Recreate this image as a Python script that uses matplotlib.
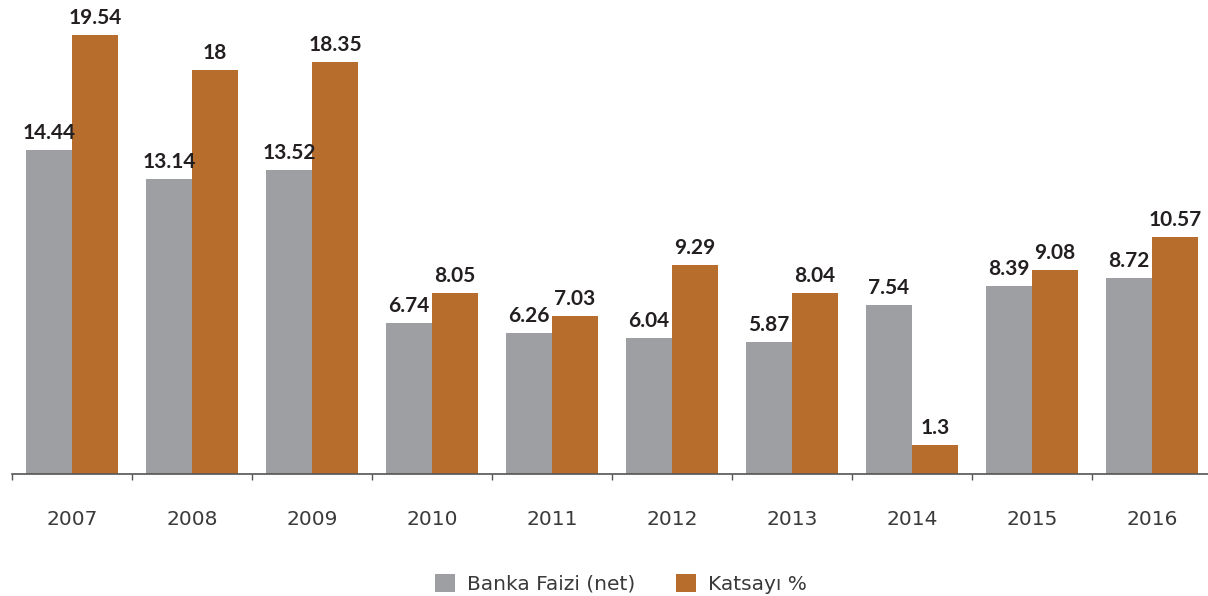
import numpy as np
import matplotlib.pyplot as plt

years = ['2007', '2008', '2009', '2010', '2011', '2012', '2013', '2014', '2015', '2016']
banka = [14.44, 13.14, 13.52, 6.74, 6.26, 6.04, 5.87, 7.54, 8.39, 8.72]
katsayi = [19.54, 18, 18.35, 8.05, 7.03, 9.29, 8.04, 1.3, 9.08, 10.57]
banka_lbl = ['14.44', '13.14', '13.52', '6.74', '6.26', '6.04', '5.87', '7.54', '8.39', '8.72']
katsayi_lbl = ['19.54', '18', '18.35', '8.05', '7.03', '9.29', '8.04', '1.3', '9.08', '10.57']

gray = '#9d9fa2'
orange = '#b76d2b'
txt = '#231f20'

plt.rcParams['font.family'] = ['Lato', 'DejaVu Sans']

fig = plt.figure(figsize=(12.08, 5.96), dpi=100)
ax = fig.add_axes([12 / 1208, 122 / 596, 1200 / 1208, 474 / 596])

x = np.arange(len(years))
w = 0.383
b1 = ax.bar(x - w / 2, banka, w, color=gray, label='Banka Faizi (net)')
b2 = ax.bar(x + w / 2, katsayi, w, color=orange, label='Katsayı %')

for bars, lbls in ((b1, banka_lbl), (b2, katsayi_lbl)):
    for r, s in zip(bars, lbls):
        ax.annotate(s, (r.get_x() + r.get_width() / 2, r.get_height()),
                    xytext=(0, 5), textcoords='offset points',
                    ha='center', va='bottom', fontsize=15, fontweight='bold', color=txt)

ax.set_xlim(-0.5, 9.5)
ax.set_ylim(0, 21.1)
for s in ['top', 'right', 'left']:
    ax.spines[s].set_visible(False)
ax.spines['bottom'].set_color('#555555')
ax.spines['bottom'].set_linewidth(1.2)
ax.set_yticks([])
ax.set_xticks(np.arange(-0.5, 10, 1))
ax.set_xticklabels([])
ax.set_xticks(x, minor=True)
ax.set_xticklabels(years, minor=True, fontsize=14.5, color='#3a3a3a', family='DejaVu Sans')
ax.tick_params(axis='x', which='major', length=4, color='#555555', width=1)
ax.tick_params(axis='x', which='minor', length=0, pad=26)

fig.legend(handles=[b1, b2], loc='center', bbox_to_anchor=(621 / 1208, 1 - 584 / 596),
           ncol=2, frameon=False, handlelength=1.0, handleheight=1.0,
           columnspacing=2.0, handletextpad=0.6, labelcolor='#3a3a3a',
           prop={'family': 'DejaVu Sans', 'size': 14.5})

fig.savefig('out.png', dpi=100)
